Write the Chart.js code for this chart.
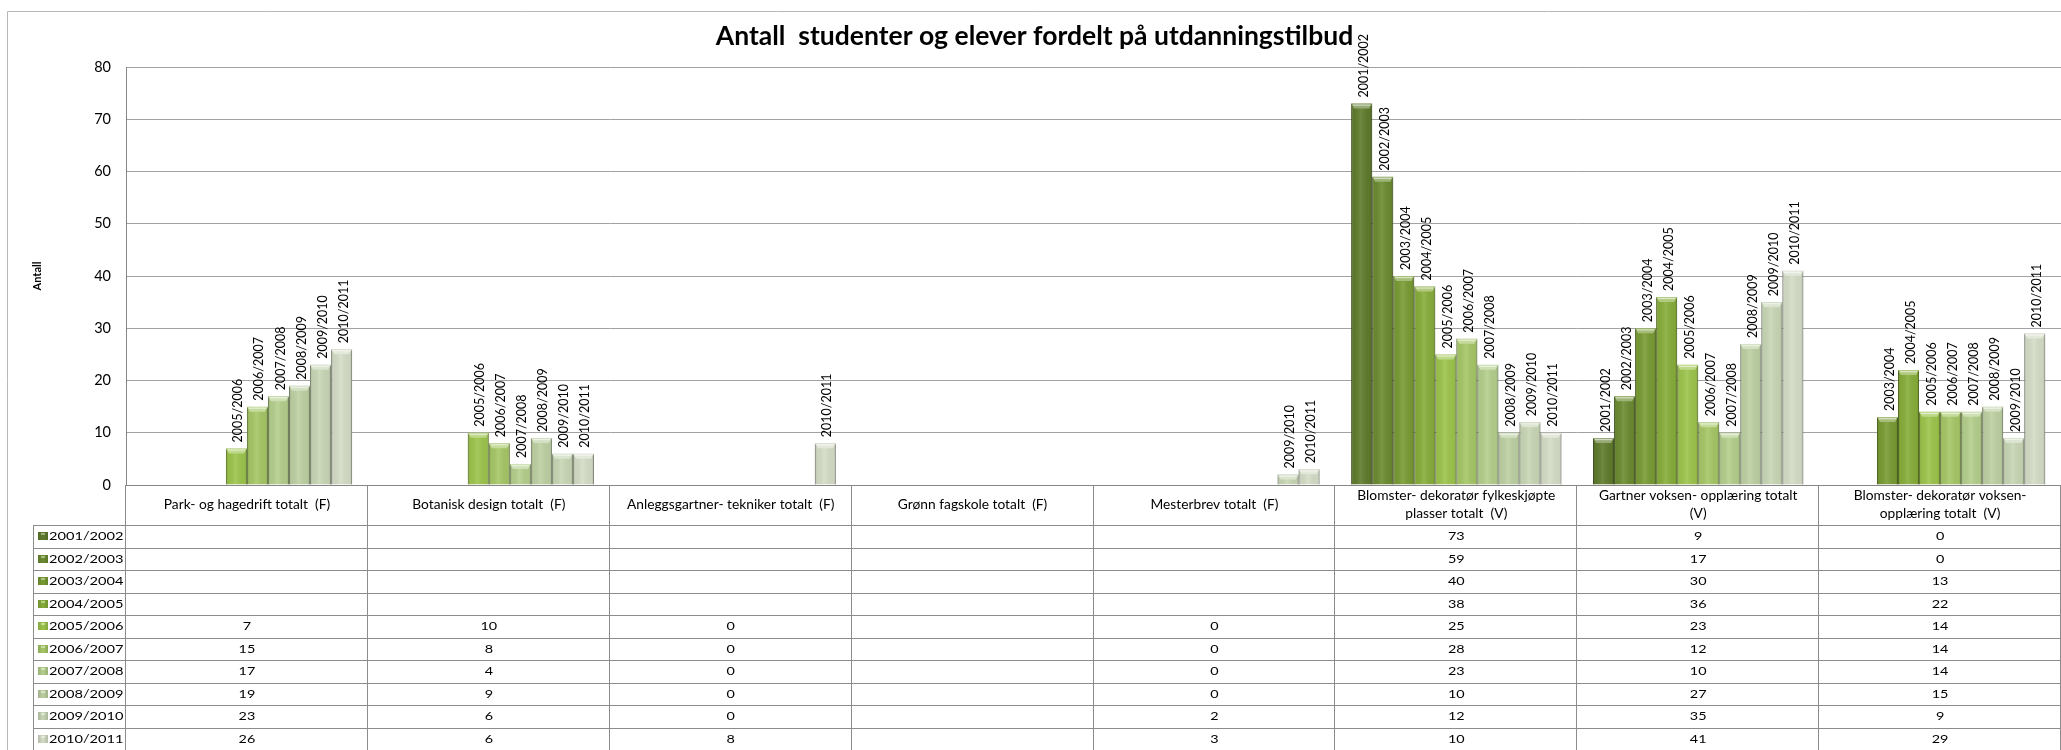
<!DOCTYPE html>
<html>
<head>
<meta charset="utf-8">
<script src="https://cdn.jsdelivr.net/npm/chart.js@4/dist/chart.umd.min.js"></script>
<style>
html,body{margin:0;padding:0;background:#fff;}
#wrap{width:2061px;height:750px;position:relative;overflow:hidden;}
canvas{display:block;}
</style>
</head>
<body>
<div id="wrap"><canvas id="c" width="2061" height="750"></canvas></div>
<script>
// ---------- DATA ----------
const chartTitle = 'Antall  studenter og elever fordelt på utdanningstilbud';
const yAxisTitle = 'Antall';
const categories = [
  ['Park- og hagedrift totalt  (F)'],
  ['Botanisk design totalt  (F)'],
  ['Anleggsgartner- tekniker totalt  (F)'],
  ['Grønn fagskole totalt  (F)'],
  ['Mesterbrev totalt  (F)'],
  ['Blomster- dekoratør fylkeskjøpte', 'plasser totalt  (V)'],
  ['Gartner voksen- opplæring totalt', '(V)'],
  ['Blomster- dekoratør voksen-', 'opplæring totalt  (V)']
];
const seriesNames = ['2001/2002','2002/2003','2003/2004','2004/2005','2005/2006','2006/2007','2007/2008','2008/2009','2009/2010','2010/2011'];
const v2001 = [null, null, null, null, null, 73,  9,  0];
const v2002 = [null, null, null, null, null, 59, 17,  0];
const v2003 = [null, null, null, null, null, 40, 30, 13];
const v2004 = [null, null, null, null, null, 38, 36, 22];
const v2005 = [7,  10, 0, null, 0, 25, 23, 14];
const v2006 = [15,  8, 0, null, 0, 28, 12, 14];
const v2007 = [17,  4, 0, null, 0, 23, 10, 14];
const v2008 = [19,  9, 0, null, 0, 10, 27, 15];
const v2009 = [23,  6, 0, null, 2, 12, 35,  9];
const v2010 = [26,  6, 8, null, 3, 10, 41, 29];
const seriesValues = [v2001, v2002, v2003, v2004, v2005, v2006, v2007, v2008, v2009, v2010];
const yTickValues = [0, 10, 20, 30, 40, 50, 60, 70, 80];

// ---------- STYLE ----------
const seriesColors = ['#5f7b2c','#6b8b30','#789b33','#87ad3a','#9cc44b','#a6c766','#b4cf8c','#bdd0a2','#c8d6b5','#d4dcc6'];
const FONT = 'Lato';

const bgAndBorder = {
  id: 'bgAndBorder',
  beforeDraw(chart) {
    const ctx = chart.ctx;
    ctx.save();
    ctx.fillStyle = '#fff';
    ctx.fillRect(0, 0, chart.width, chart.height);
    ctx.strokeStyle = '#b8b8b8';
    ctx.lineWidth = 1;
    ctx.beginPath();
    ctx.moveTo(7.5, chart.height);
    ctx.lineTo(7.5, 11.5);
    ctx.lineTo(chart.width, 11.5);
    ctx.stroke();
    ctx.restore();
  }
};

function shade(hex, f) {
  const n = parseInt(hex.slice(1), 16);
  let r = (n >> 16) & 255, g = (n >> 8) & 255, b = n & 255;
  if (f < 0) { r = r * (1 + f); g = g * (1 + f); b = b * (1 + f); }
  else { r = r + (255 - r) * f; g = g + (255 - g) * f; b = b + (255 - b) * f; }
  return 'rgb(' + Math.round(r) + ',' + Math.round(g) + ',' + Math.round(b) + ')';
}

const barLook = {
  id: 'barLook',
  afterDatasetsDraw(chart) {
    const ctx = chart.ctx;
    ctx.save();
    chart.data.datasets.forEach((ds, i) => {
      const meta = chart.getDatasetMeta(i);
      meta.data.forEach((bar, j) => {
        const v = ds.data[j];
        if (v === null || v === 0) return;
        const p = bar.getProps(['x', 'y', 'base', 'width'], true);
        const l = p.x - p.width / 2, r = p.x + p.width / 2, h = p.base - p.y;
        const g = ctx.createLinearGradient(l, 0, r, 0);
        g.addColorStop(0, 'rgba(0,0,0,0.22)');
        g.addColorStop(0.1, 'rgba(0,0,0,0.04)');
        g.addColorStop(0.45, 'rgba(255,255,255,0.10)');
        g.addColorStop(0.9, 'rgba(0,0,0,0.04)');
        g.addColorStop(1, 'rgba(0,0,0,0.22)');
        ctx.fillStyle = g;
        ctx.fillRect(l, p.y, p.width, h);
        const cap = Math.min(5, h);
        ctx.fillStyle = shade(seriesColors[i], 0.35);
        ctx.beginPath();
        ctx.moveTo(l, p.y);
        ctx.lineTo(r, p.y);
        ctx.lineTo(r - 3, p.y + cap);
        ctx.lineTo(l + 3, p.y + cap);
        ctx.closePath();
        ctx.fill();
        ctx.fillStyle = 'rgba(255,255,255,0.55)';
        ctx.fillRect(l + 2, p.y + 1, p.width - 4, 1.2);
        // data label (series name), rotated
        ctx.save();
        ctx.translate(p.x + 2, p.y - 6);
        ctx.rotate(-Math.PI / 2);
        ctx.font = '12.5px ' + FONT;
        ctx.fillStyle = '#000';
        ctx.textAlign = 'left';
        ctx.textBaseline = 'middle';
        ctx.fillText(seriesNames[i], 0, 0);
        ctx.restore();
      });
    });
    ctx.restore();
  }
};

const dataTable = {
  id: 'dataTable',
  afterDraw(chart) {
    const ctx = chart.ctx;
    const a = chart.chartArea;
    const n = categories.length;
    const catW = (a.right - a.left) / n;
    const top = a.bottom;
    const headerH = 40;
    const rowsTop = top + headerH;
    const rowH = (chart.height - rowsTop) / seriesNames.length;
    const keyLeft = 33;
    ctx.save();
    ctx.strokeStyle = '#8c8c8c';
    ctx.lineWidth = 1;
    ctx.beginPath();
    for (let k = 0; k <= n; k++) {
      const x = Math.round(a.left + k * catW) - 0.5;
      ctx.moveTo(x, top);
      ctx.lineTo(x, chart.height);
    }
    ctx.moveTo(keyLeft + 0.5, rowsTop);
    ctx.lineTo(keyLeft + 0.5, chart.height);
    for (let r = 0; r <= seriesNames.length; r++) {
      const y = Math.round(rowsTop + r * rowH) + 0.5;
      ctx.moveTo(keyLeft, y);
      ctx.lineTo(a.right, y);
    }
    ctx.stroke();

    ctx.fillStyle = '#000';
    ctx.textBaseline = 'middle';
    ctx.textAlign = 'center';
    // header
    categories.forEach((lines, k) => {
      const cx = a.left + (k + 0.5) * catW;
      const mid = top + headerH / 2;
      const lh = 18;
      lines.forEach((t, li) => {
        const y = mid + (li - (lines.length - 1) / 2) * lh;
        ctx.save();
        ctx.translate(cx, y);
        ctx.scale(1.06, 1);
        ctx.font = '13px ' + FONT;
        ctx.fillText(t, 0, 0);
        ctx.restore();
      });
    });
    // rows
    seriesNames.forEach((name, r) => {
      const cy = rowsTop + (r + 0.5) * rowH;
      // legend key
      const kx = 38, kw = 10, kh = 8;
      const g = ctx.createLinearGradient(kx, 0, kx + kw, 0);
      g.addColorStop(0, shade(seriesColors[r], -0.15));
      g.addColorStop(0.5, seriesColors[r]);
      g.addColorStop(1, shade(seriesColors[r], -0.15));
      ctx.fillStyle = g;
      ctx.fillRect(kx, Math.round(cy - kh / 2), kw, kh);
      ctx.fillStyle = shade(seriesColors[r], 0.4);
      ctx.fillRect(kx + 3, Math.round(cy - kh / 2) + 1, kw - 6, 2);
      ctx.fillStyle = '#000';
      ctx.save();
      ctx.translate(49, cy);
      ctx.scale(1.22, 1);
      ctx.font = '12px ' + FONT;
      ctx.textAlign = 'left';
      ctx.fillText(name, 0, 0);
      ctx.restore();
      seriesValues[r].forEach((v, k) => {
        if (v === null) return;
        const cx = a.left + (k + 0.5) * catW;
        ctx.save();
        ctx.translate(cx, cy);
        ctx.scale(1.2, 1);
        ctx.font = '12px ' + FONT;
        ctx.textAlign = 'center';
        ctx.fillText(String(v), 0, 0);
        ctx.restore();
      });
    });

    // chart title (drawn last, on top like the reference)
    ctx.save();
    ctx.font = 'bold 26.5px ' + FONT;
    ctx.fillStyle = '#000';
    ctx.textAlign = 'center';
    ctx.textBaseline = 'middle';
    ctx.fillText(chartTitle, chart.width / 2 + 4, 36);
    ctx.restore();
    ctx.restore();
  }
};

new Chart(document.getElementById('c'), {
  type: 'bar',
  data: {
    labels: categories,
    datasets: seriesNames.map((name, i) => ({
      label: name,
      data: seriesValues[i],
      backgroundColor: seriesColors[i],
      borderColor: shade(seriesColors[i], -0.25),
      borderWidth: 1,
      categoryPercentage: 10 / 11.5,
      barPercentage: 1
    }))
  },
  options: {
    responsive: false,
    animation: false,
    devicePixelRatio: 1,
    layout: { padding: { left: 0, right: 0, top: 67, bottom: 265 } },
    plugins: {
      legend: { display: false },
      tooltip: { enabled: false },
      title: { display: false }
    },
    scales: {
      x: {
        grid: { display: false },
        ticks: { display: false },
        border: { display: true, color: '#868686' },
        afterFit(s) { s.height = 0; }
      },
      y: {
        min: 0,
        max: 80,
        afterBuildTicks(s) { s.ticks = yTickValues.map(v => ({ value: v })); },
        ticks: { font: { family: FONT, size: 14.5 }, color: '#000', padding: 15 },
        grid: { color: '#a2a2a2', drawTicks: false },
        border: { color: '#868686' },
        title: {
          display: true,
          text: yAxisTitle,
          color: '#000',
          font: { family: FONT, size: 11, weight: 'bold' },
          padding: { top: 31, bottom: 0 }
        },
        afterFit(s) { s.width = 126; }
      }
    }
  },
  plugins: [bgAndBorder, barLook, dataTable]
});
</script>
</body>
</html>
